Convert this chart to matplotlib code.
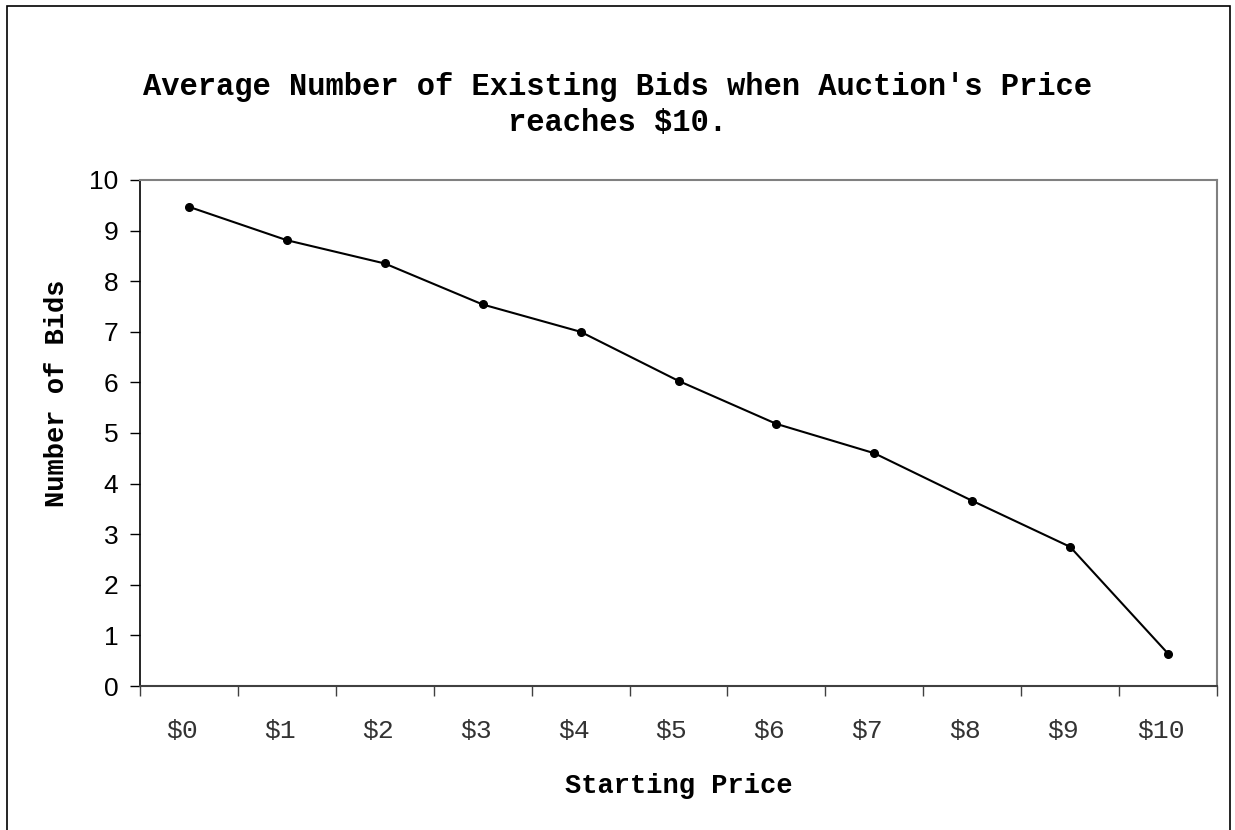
import matplotlib
matplotlib.use("Agg")
import matplotlib.pyplot as plt
from matplotlib.patches import Rectangle
from matplotlib.ticker import FixedLocator, NullFormatter
from matplotlib.transforms import ScaledTranslation

# Average number of bids present once the price reaches $10
starting_prices = ["$0", "$1", "$2", "$3", "$4", "$5", "$6", "$7", "$8", "$9", "$10"]
avg_bids = [9.47, 8.81, 8.35, 7.54, 7.00, 6.03, 5.18, 4.60, 3.66, 2.75, 0.64]

title = "Average Number of Existing Bids when Auction's Price\nreaches $10."
x_label = "Starting Price"
y_label = "Number of Bids"

W, H = 1235, 830
fig = plt.figure(figsize=(W / 100, H / 100), dpi=100)
fig.patch.set_facecolor("white")

# outer chart border (bottom edge runs past the canvas)
fig.patches.append(Rectangle((7 / W, -0.05), (1230 - 7) / W, 1.05 - 6 / H,
                             transform=fig.transFigure, fill=False,
                             edgecolor="black", linewidth=1.2))

ax = fig.add_axes([140 / W, (H - 686) / H, (1217 - 140) / W, (686 - 180) / H])

xs = list(range(len(starting_prices)))
ax.plot(xs, avg_bids, color="black", linewidth=1.5, marker="o",
        markersize=5.5, markerfacecolor="black", markeredgecolor="black",
        clip_on=False, zorder=3)

ax.set_xlim(-0.5, len(starting_prices) - 0.5)
ax.set_ylim(0, 10)
ax.set_yticks(range(0, 11))

# ticks sit on category boundaries, labels at category centres
ax.xaxis.set_major_locator(FixedLocator([i - 0.5 for i in range(len(starting_prices) + 1)]))
ax.xaxis.set_major_formatter(NullFormatter())
ax.xaxis.set_minor_locator(FixedLocator(xs))
ax.set_xticklabels(starting_prices, minor=True)
ax.tick_params(axis="x", which="minor", length=0, pad=24)
ax.tick_params(axis="x", which="major", direction="out", length=7.5,
               width=1.0, color="#404040")
ax.tick_params(axis="y", direction="out", length=7.5, width=1.0,
               color="black", pad=8)

shift = ScaledTranslation(-7 / 100, 0, fig.dpi_scale_trans)
for lbl in ax.get_xticklabels(minor=True):
    lbl.set_fontfamily("Liberation Mono")
    lbl.set_fontsize(19)
    lbl.set_color("#333333")
    lbl.set_transform(lbl.get_transform() + shift)
for lbl in ax.get_yticklabels():
    lbl.set_fontfamily("Liberation Sans")
    lbl.set_fontsize(19)

ax.spines["left"].set_color("black")
ax.spines["left"].set_linewidth(1.2)
ax.spines["bottom"].set_color("#404040")
ax.spines["bottom"].set_linewidth(1.5)
ax.spines["top"].set_color("#808080")
ax.spines["top"].set_linewidth(1.5)
ax.spines["right"].set_color("#808080")
ax.spines["right"].set_linewidth(1.5)

fig.text(0.5, (H - 105) / H, title, ha="center", va="center",
         fontfamily="Liberation Mono", fontweight="bold", fontsize=22,
         linespacing=1.3)
fig.text((140 + 1217) / 2 / W, (H - 786) / H, x_label, ha="center", va="center",
         fontfamily="Liberation Mono", fontweight="bold", fontsize=19.5)
fig.text(57 / W, (H - 393) / H, y_label, ha="center", va="center",
         rotation=90, fontfamily="Liberation Mono", fontweight="bold",
         fontsize=19.5)

fig.savefig("out.png", dpi=100, facecolor="white")
